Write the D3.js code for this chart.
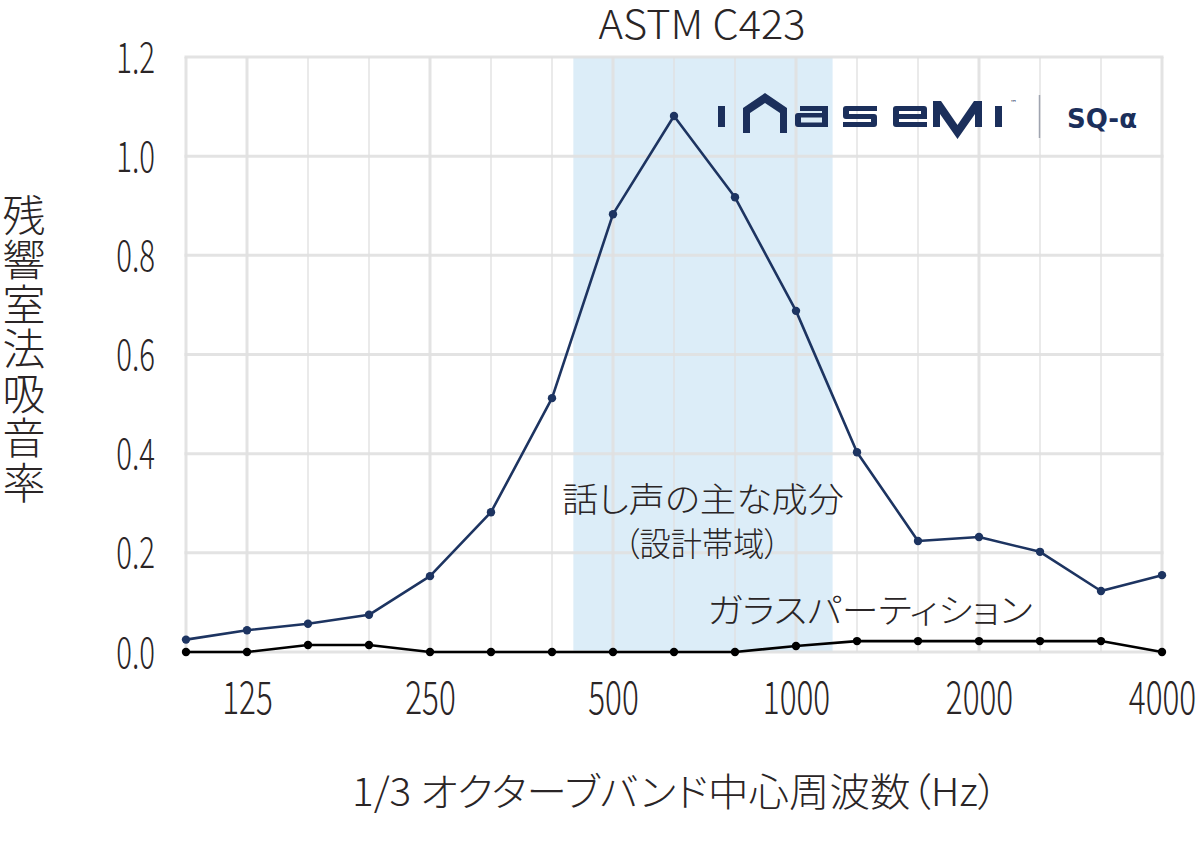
<!DOCTYPE html>
<html>
<head>
<meta charset="utf-8">
<script src="https://cdn.jsdelivr.net/npm/d3@7"></script>
<style>
  html, body { margin: 0; padding: 0; background: #fff; }
  svg text { font-family: "Noto Sans CJK JP Light", "Noto Sans CJK JP", "Noto Sans", sans-serif; font-weight: 300; fill: #2a2526; font-feature-settings: "palt"; }
</style>
</head>
<body>
<svg id="chart" width="1200" height="850"></svg>
<script>
const bands = ["100","125","160","200","250","315","400","500","630","800","1000","1250","1600","2000","2500","3150","4000"];
const tickLabels = ["125","250","500","1000","2000","4000"];
const yTicks = [0, 0.2, 0.4, 0.6, 0.8, 1.0, 1.2];
const sqAlpha = [0.025, 0.044, 0.057, 0.075, 0.153, 0.282, 0.512, 0.883, 1.081, 0.917, 0.688, 0.403, 0.224, 0.232, 0.202, 0.123, 0.155];
const glass = [0, 0, 0.014, 0.014, 0, 0, 0, 0, 0, 0, 0.012, 0.022, 0.022, 0.022, 0.022, 0.022, 0];
const speechBand = [6.35, 10.6]; // band-index range of the main speech components

const svg = d3.select("#chart");
const pL = 186, pR = 1162, pT = 57, pB = 652;
const navy = "#1b2f5b";

const x = d3.scaleLinear().domain([0, bands.length - 1]).range([pL, pR]);
const y = d3.scaleLinear().domain([0, 1.2]).range([pB, pT]);

// speech band shading
svg.append("rect")
  .attr("x", x(speechBand[0])).attr("y", pT)
  .attr("width", x(speechBand[1]) - x(speechBand[0]))
  .attr("height", pB - pT)
  .attr("fill", "#dcedf8");

// gridlines
const grid = svg.append("g");
grid.selectAll("line.v").data(bands).join("line")
  .attr("x1", (d, i) => x(i)).attr("x2", (d, i) => x(i))
  .attr("y1", pT).attr("y2", pB)
  .attr("stroke", "#e0e0e0")
  .attr("stroke-opacity", 0.9)
  .attr("stroke-width", (d, i) => (tickLabels.includes(d) || i === 0 || i === bands.length - 1) ? 3 : 1.5);
grid.selectAll("line.h").data(yTicks).join("line")
  .attr("x1", pL - 1.5).attr("x2", pR + 1.5)
  .attr("y1", d => y(d)).attr("y2", d => y(d))
  .attr("stroke", "#e0e0e0")
  .attr("stroke-opacity", 0.9)
  .attr("stroke-width", 3);

// y axis labels (condensed light numerals)
const yAxis = d3.axisLeft(y).tickValues(yTicks).tickFormat(d3.format(".1f")).tickSize(0).tickPadding(0);
const ya = svg.append("g").attr("transform", `translate(155,0)`).call(yAxis);
ya.select(".domain").remove();
ya.selectAll("text").attr("font-size", 42)
  .style("font-family", '"Noto Sans CJK JP Light", "Noto Sans CJK JP", sans-serif').style("font-weight", 300)
  .attr("fill", "#2a2526").attr("x", 0).attr("dy", "0.36em").attr("transform", "scale(0.7,1)");

// x axis labels
const xAxis = d3.axisBottom(x)
  .tickValues(tickLabels.map(t => bands.indexOf(t)))
  .tickFormat(i => bands[i]).tickSize(0).tickPadding(0);
const xa = svg.append("g").attr("transform", `translate(0,714)`).call(xAxis);
xa.select(".domain").remove();
xa.selectAll("text").attr("font-size", 45)
  .style("font-family", '"Noto Sans CJK JP Light", "Noto Sans CJK JP", sans-serif').style("font-weight", 300)
  .attr("fill", "#2a2526").attr("y", 0).attr("dy", 0).attr("transform", "scale(0.7,1)");

// lines
const line = d3.line().x((d, i) => x(i)).y(d => y(d));
function series(data, color) {
  svg.append("path").datum(data).attr("d", line)
    .attr("fill", "none").attr("stroke", color).attr("stroke-width", 2.6).attr("stroke-linejoin", "round");
  svg.append("g").selectAll("circle").data(data).join("circle")
    .attr("cx", (d, i) => x(i)).attr("cy", d => y(d)).attr("r", 4.2).attr("fill", color);
}
series(glass, "#000000");
series(sqAlpha, "#1d3461");

// title
svg.append("text").attr("x", 702).attr("y", 39).attr("text-anchor", "middle")
  .attr("font-size", 40).attr("textLength", 207).attr("lengthAdjust", "spacingAndGlyphs").text("ASTM C423");

// annotations
svg.append("text").attr("x", 703).attr("y", 512).attr("text-anchor", "middle")
  .attr("font-size", 34).attr("textLength", 282).attr("lengthAdjust", "spacingAndGlyphs").text("話し声の主な成分");
svg.append("text").attr("x", 702).attr("y", 556).attr("text-anchor", "middle")
  .attr("font-size", 33).attr("textLength", 156).attr("lengthAdjust", "spacingAndGlyphs").text("（設計帯域）");
svg.append("text").attr("x", 870).attr("y", 623).attr("text-anchor", "middle")
  .attr("font-size", 34).attr("textLength", 325).attr("lengthAdjust", "spacingAndGlyphs").text("ガラスパーティション");

// axis titles
svg.append("text").attr("x", 675).attr("y", 806).attr("text-anchor", "middle")
  .attr("font-size", 39).attr("textLength", 646).attr("lengthAdjust", "spacingAndGlyphs")
  .text("1/3 オクターブバンド中心周波数（Hz）");
svg.append("text").attr("x", 24).attr("y", 194)
  .attr("font-size", 43)
  .style("writing-mode", "vertical-rl").style("text-orientation", "upright")
  .style("letter-spacing", "1.5px")
  .text("残響室法吸音率");

// logo (IWASEMI wordmark)
const logo = svg.append("g").attr("fill", navy);
logo.append("rect").attr("x", 718).attr("y", 106).attr("width", 7).attr("height", 21);
logo.append("path").attr("d", "M743,133 L743,108 L765,93 L787,108 L787,133 L780,133 L780,113 L765,103 L750,113 L750,133 Z");
// a
logo.append("path").attr("d", "M800,106 H828 V127 H798 Q795,127 795,124 V116 Q795,113 798,113 H822 V111 H800 Z M801,117.5 V122.5 H822 V117.5 Z");
// s
logo.append("path").attr("d", "M846,106 H877 V111 H849 V114 H874 Q877,114 877,117 V124 Q877,127 874,127 H843 V122 H871 V119 H846 Q843,119 843,116 V109 Q843,106 846,106 Z");
// e
logo.append("path").attr("d", "M896,106 H924 Q927,106 927,109 V119 H899 V122 H927 V127 H896 Q893,127 893,124 V109 Q893,106 896,106 Z M899,111 V114 H921 V111 Z");
// M (V shape)
logo.append("path").attr("d", "M933,127 L933,101 L941,101 L957.5,125 L974,101 L982,101 L982,127 L975,127 L975,114 L957.5,139 L940,114 L940,127 Z");
logo.append("rect").attr("x", 995).attr("y", 106).attr("width", 7).attr("height", 21);
logo.append("text").attr("x", 1010).attr("y", 105)
  .style("font-family", '"DejaVu Sans", sans-serif').style("font-weight", 400).attr("font-size", 7).style("fill", navy).text("™");
svg.append("line").attr("x1", 1039.5).attr("x2", 1039.5).attr("y1", 95).attr("y2", 138)
  .attr("stroke", "#a0a5b0").attr("stroke-width", 1.5);
svg.append("text").attr("x", 1067).attr("y", 128)
  .style("font-family", '"DejaVu Sans Condensed", "DejaVu Sans", sans-serif').style("font-weight", 700)
  .attr("font-size", 27).style("fill", navy)
  .attr("textLength", 70).attr("lengthAdjust", "spacingAndGlyphs")
  .text("SQ-α");
</script>
</body>
</html>
